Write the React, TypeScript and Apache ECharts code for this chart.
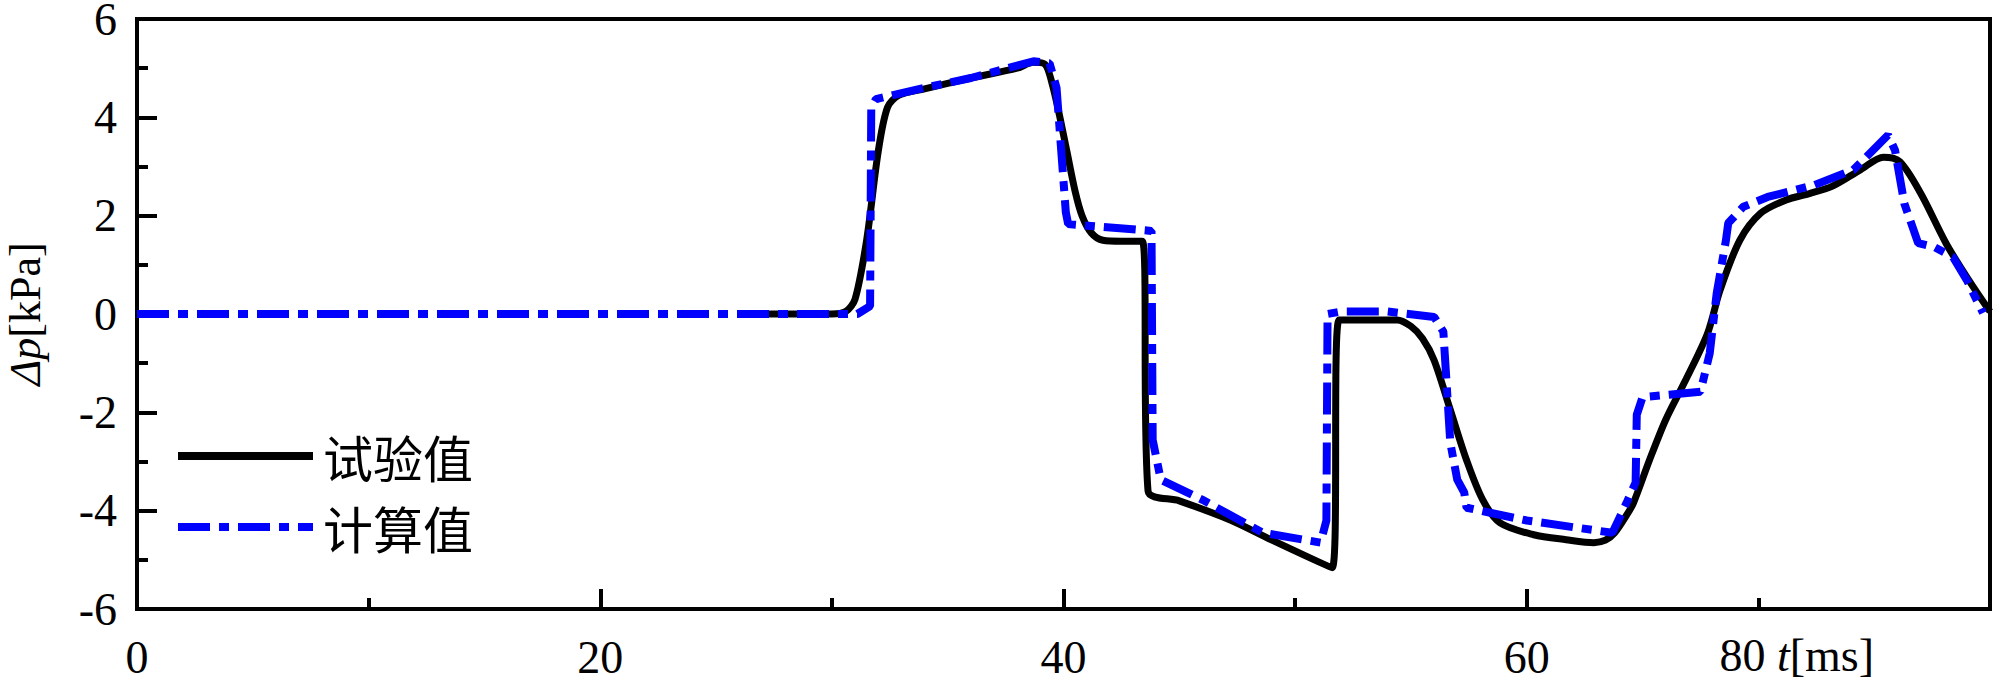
import React, { useEffect, useRef } from "react";
import * as echarts from "echarts";

// 试验值 (experimental) : [t ms, Δp kPa]
const expT = [26.0, 30.0, 30.6, 31.0, 31.5, 32.0, 32.4, 32.9, 34.0, 36.0, 38.0, 38.7, 39.2, 39.5, 39.8, 40.15, 40.5, 40.8, 41.2, 41.7, 42.5, 43.4, 43.65, 45.0, 47.2, 49.0, 51.6, 51.9, 54.4, 55.0, 55.5, 56.0, 56.7, 57.4, 58.1, 58.85, 60.3, 61.7, 62.9, 63.4, 63.8, 64.3, 64.6, 65.3, 66.0, 66.8, 67.8, 68.35, 69.2, 70.1, 71.2, 72.2, 73.2, 74.4, 75.4, 76.1, 77.0, 78.1, 79.0, 80.0];
const expP = [0, 0, 0.05, 0.3, 1.5, 3.3, 4.2, 4.45, 4.58, 4.8, 5.0, 5.12, 5.08, 4.7, 4.1, 3.3, 2.5, 2.0, 1.65, 1.5, 1.48, 1.48, -3.6, -3.8, -4.19, -4.6, -5.16, -0.12, -0.12, -0.25, -0.5, -0.94, -1.95, -2.97, -3.78, -4.25, -4.49, -4.59, -4.65, -4.6, -4.45, -4.1, -3.85, -2.97, -2.15, -1.4, -0.4, 0.49, 1.5, 2.05, 2.32, 2.45, 2.6, 2.93, 3.19, 3.1, 2.46, 1.44, 0.75, 0.05];

// 计算值 (computed)
const calT = [0, 31.1, 31.65, 31.7, 31.9, 34.0, 36.0, 38.7, 39.4, 39.7, 40.1, 40.2, 43.8, 43.85, 44.2, 46.0, 48.6, 51.1, 51.35, 51.4, 52.0, 54.0, 56.0, 56.4, 56.7, 57.0, 57.3, 57.4, 60.0, 63.7, 64.3, 64.7, 64.75, 65.0, 67.5, 67.9, 68.2, 68.6, 68.7, 69.35, 70.4, 72.4, 74.1, 75.6, 75.9, 76.3, 76.9, 77.6, 78.4, 79.0, 79.7];
const calP = [0, 0, 0.16, 4.2, 4.37, 4.6, 4.8, 5.14, 5.1, 4.6, 2.07, 1.83, 1.69, -2.56, -3.37, -3.78, -4.45, -4.65, -4.2, 0.0, 0.05, 0.05, -0.06, -0.36, -2.62, -3.37, -3.63, -3.94, -4.2, -4.45, -3.85, -3.43, -2.05, -1.69, -1.58, -0.8, 0.42, 1.5, 1.85, 2.18, 2.38, 2.62, 2.93, 3.64, 3.33, 2.25, 1.44, 1.36, 1.16, 0.69, 0.02];

const xTicks = { min: 0, max: 80, interval: 20 };
const yTicks = { min: -6, max: 6, interval: 2 };
const seriesNames = ["试验值", "计算值"];

const serif = "'Liberation Serif', 'Times New Roman', serif";
const cjk = "'Noto Sans CJK SC', sans-serif";

export default function App() {
  const ref = useRef<HTMLDivElement>(null);
  useEffect(() => {
    if (!ref.current) return;
    const chart = echarts.init(ref.current, undefined, { renderer: "svg" });
    const expData = expT.map((t, i) => [t, expP[i]]);
    const calData = calT.map((t, i) => [t, calP[i]]);
    chart.setOption({
      animation: false,
      backgroundColor: "#fff",
      grid: {
        left: 137,
        right: 9,
        top: 19,
        bottom: 72,
        containLabel: false,
        outerBoundsMode: "none",
        show: true,
        borderColor: "#000",
        borderWidth: 4,
        backgroundColor: "transparent",
      },
      legend: {
        orient: "vertical",
        left: 169,
        top: 426,
        itemWidth: 135,
        itemHeight: 30,
        itemGap: 21,
        data: seriesNames,
        itemStyle: { opacity: 0 },
        lineStyle: { width: 8 },
        textStyle: {
          fontFamily: cjk,
          fontSize: 50,
          color: "#000",
          padding: [0, 0, 0, 5],
        },
      },
      xAxis: {
        type: "value",
        min: xTicks.min,
        max: xTicks.max,
        interval: xTicks.interval,
        splitLine: { show: false },
        axisLine: { show: true, onZero: false, lineStyle: { color: "#000", width: 4 } },
        axisTick: { show: true, inside: true, length: 20, lineStyle: { color: "#000", width: 4 } },
        minorTick: { show: true, splitNumber: 2, length: 11, lineStyle: { color: "#000", width: 4 } },
        axisLabel: {
          fontFamily: serif,
          fontSize: 46,
          lineHeight: 46,
          color: "#000",
          margin: 25,
          formatter: (v: number) => (v === 80 ? "" : String(v)),
        },
        name: "{n|80 }{i|t}{n|[ms]}",
        nameLocation: "end",
        nameGap: -116,
        nameTextStyle: {
          align: "right",
          verticalAlign: "top",
          padding: [23, 0, 0, 0],
          rich: {
            n: { fontFamily: serif, fontSize: 46, lineHeight: 46, color: "#000" },
            i: { fontFamily: serif, fontSize: 46, lineHeight: 46, color: "#000", fontStyle: "italic" },
          },
        },
      },
      yAxis: {
        type: "value",
        min: yTicks.min,
        max: yTicks.max,
        interval: yTicks.interval,
        splitLine: { show: false },
        axisLine: { show: true, onZero: false, lineStyle: { color: "#000", width: 4 } },
        axisTick: { show: true, inside: true, length: 20, lineStyle: { color: "#000", width: 4 } },
        minorTick: { show: true, splitNumber: 2, length: 11, lineStyle: { color: "#000", width: 4 } },
        axisLabel: {
          fontFamily: serif,
          fontSize: 46,
          lineHeight: 36,
          color: "#000",
          margin: 20,
        },
        name: "{i|Δp}{n|[kPa]}",
        nameLocation: "middle",
        nameGap: 92,
        nameRotate: 90,
        nameTextStyle: {
          rich: {
            n: { fontFamily: serif, fontSize: 44, lineHeight: 40, color: "#000" },
            i: { fontFamily: serif, fontSize: 44, lineHeight: 40, color: "#000", fontStyle: "italic" },
          },
        },
      },
      series: [
        {
          name: seriesNames[0],
          type: "line",
          data: expData,
          symbol: "none",
          smooth: 0.3,
          z: 2,
          lineStyle: { color: "#000", width: 7 },
          itemStyle: { color: "#000" },
        },
        {
          name: seriesNames[1],
          type: "line",
          data: calData,
          symbol: "none",
          z: 3,
          lineStyle: { color: "#0000ff", width: 8, type: [32, 9, 10, 9] },
          itemStyle: { color: "#0000ff" },
        },
      ],
    });
    return () => chart.dispose();
  }, []);
  return (
    <div
      ref={ref}
      style={{ position: "absolute", left: 0, top: 0, width: 1999, height: 681, background: "#fff" }}
    />
  );
}
